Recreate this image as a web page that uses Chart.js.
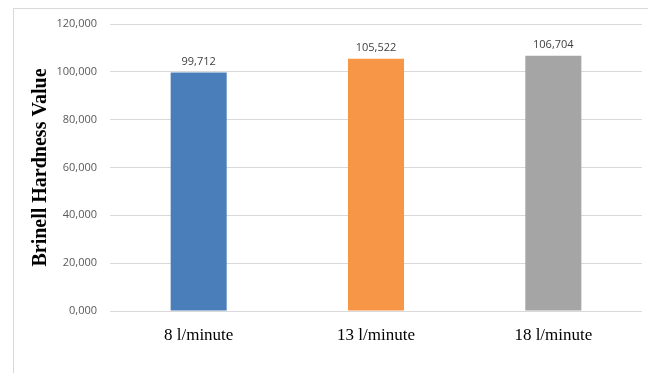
<!DOCTYPE html>
<html>
<head>
<meta charset="utf-8">
<script src="https://cdn.jsdelivr.net/npm/chart.js@4/dist/chart.umd.min.js"></script>
<style>
  html, body { margin: 0; padding: 0; background: #fff; }
  #wrap { position: relative; width: 648px; height: 373px; }
</style>
</head>
<body>
<div id="wrap"><canvas id="c" width="648" height="373"></canvas></div>
<script>
const categories = ["8 l/minute", "13 l/minute", "18 l/minute"];
const hardnessValues = [99.712, 105.522, 106.704];
const valueLabels = ["99,712", "105,522", "106,704"];
const yTickLabels = ["0,000", "20,000", "40,000", "60,000", "80,000", "100,000", "120,000"];
const barColors = ["#4a7ebb", "#f79646", "#a5a5a5"];
const yTitle = "Brinell Hardness Value";

const frame = {
  id: 'frame',
  beforeDraw(chart) {
    const ctx = chart.ctx;
    ctx.save();
    ctx.fillStyle = '#fff';
    ctx.fillRect(0, 0, chart.width, chart.height);
    ctx.strokeStyle = '#d9d9d9';
    ctx.lineWidth = 1;
    ctx.strokeRect(13.5, 8.5, 640, 370);
    ctx.restore();
  }
};

const valueLabelPlugin = {
  id: 'valueLabels',
  afterDatasetsDraw(chart) {
    const ctx = chart.ctx;
    const meta = chart.getDatasetMeta(0);
    ctx.save();
    ctx.font = '11px "Open Sans", "Liberation Sans", sans-serif';
    ctx.fillStyle = '#404040';
    ctx.textAlign = 'center';
    ctx.textBaseline = 'bottom';
    meta.data.forEach((bar, i) => {
      ctx.fillText(valueLabels[i], bar.x, bar.y - 5);
    });
    ctx.restore();
  }
};

new Chart(document.getElementById('c'), {
  type: 'bar',
  data: {
    labels: categories,
    datasets: [{
      data: hardnessValues,
      backgroundColor: barColors,
      borderWidth: 0,
      categoryPercentage: 1,
      barPercentage: 0.316
    }]
  },
  options: {
    responsive: false,
    animation: false,
    devicePixelRatio: 1,
    layout: { padding: { top: 24, right: 6, bottom: 0, left: 0 } },
    plugins: { legend: { display: false }, tooltip: { enabled: false } },
    scales: {
      x: {
        grid: { display: false, drawTicks: false },
        border: { display: false },
        ticks: {
          color: '#000',
          padding: 14,
          font: { family: '"Liberation Serif", "Times New Roman", serif', size: 17 }
        },
        afterFit(scale) { scale.height = 62; }
      },
      y: {
        min: 0,
        max: 120,
        ticks: {
          stepSize: 20,
          padding: 13,
          color: '#595959',
          font: { family: '"Open Sans", "Liberation Sans", sans-serif', size: 11 },
          callback: (v) => yTickLabels[Math.round(v / 20)]
        },
        grid: { color: '#d9d9d9', lineWidth: 1, drawTicks: false },
        border: { display: false },
        title: {
          display: true,
          text: yTitle,
          color: '#000',
          padding: { top: 29, bottom: 0 },
          font: { family: '"Liberation Serif", "Times New Roman", serif', size: 20, weight: 'bold' }
        },
        afterFit(scale) { scale.width = 110; }
      }
    }
  },
  plugins: [frame, valueLabelPlugin]
});
</script>
</body>
</html>
